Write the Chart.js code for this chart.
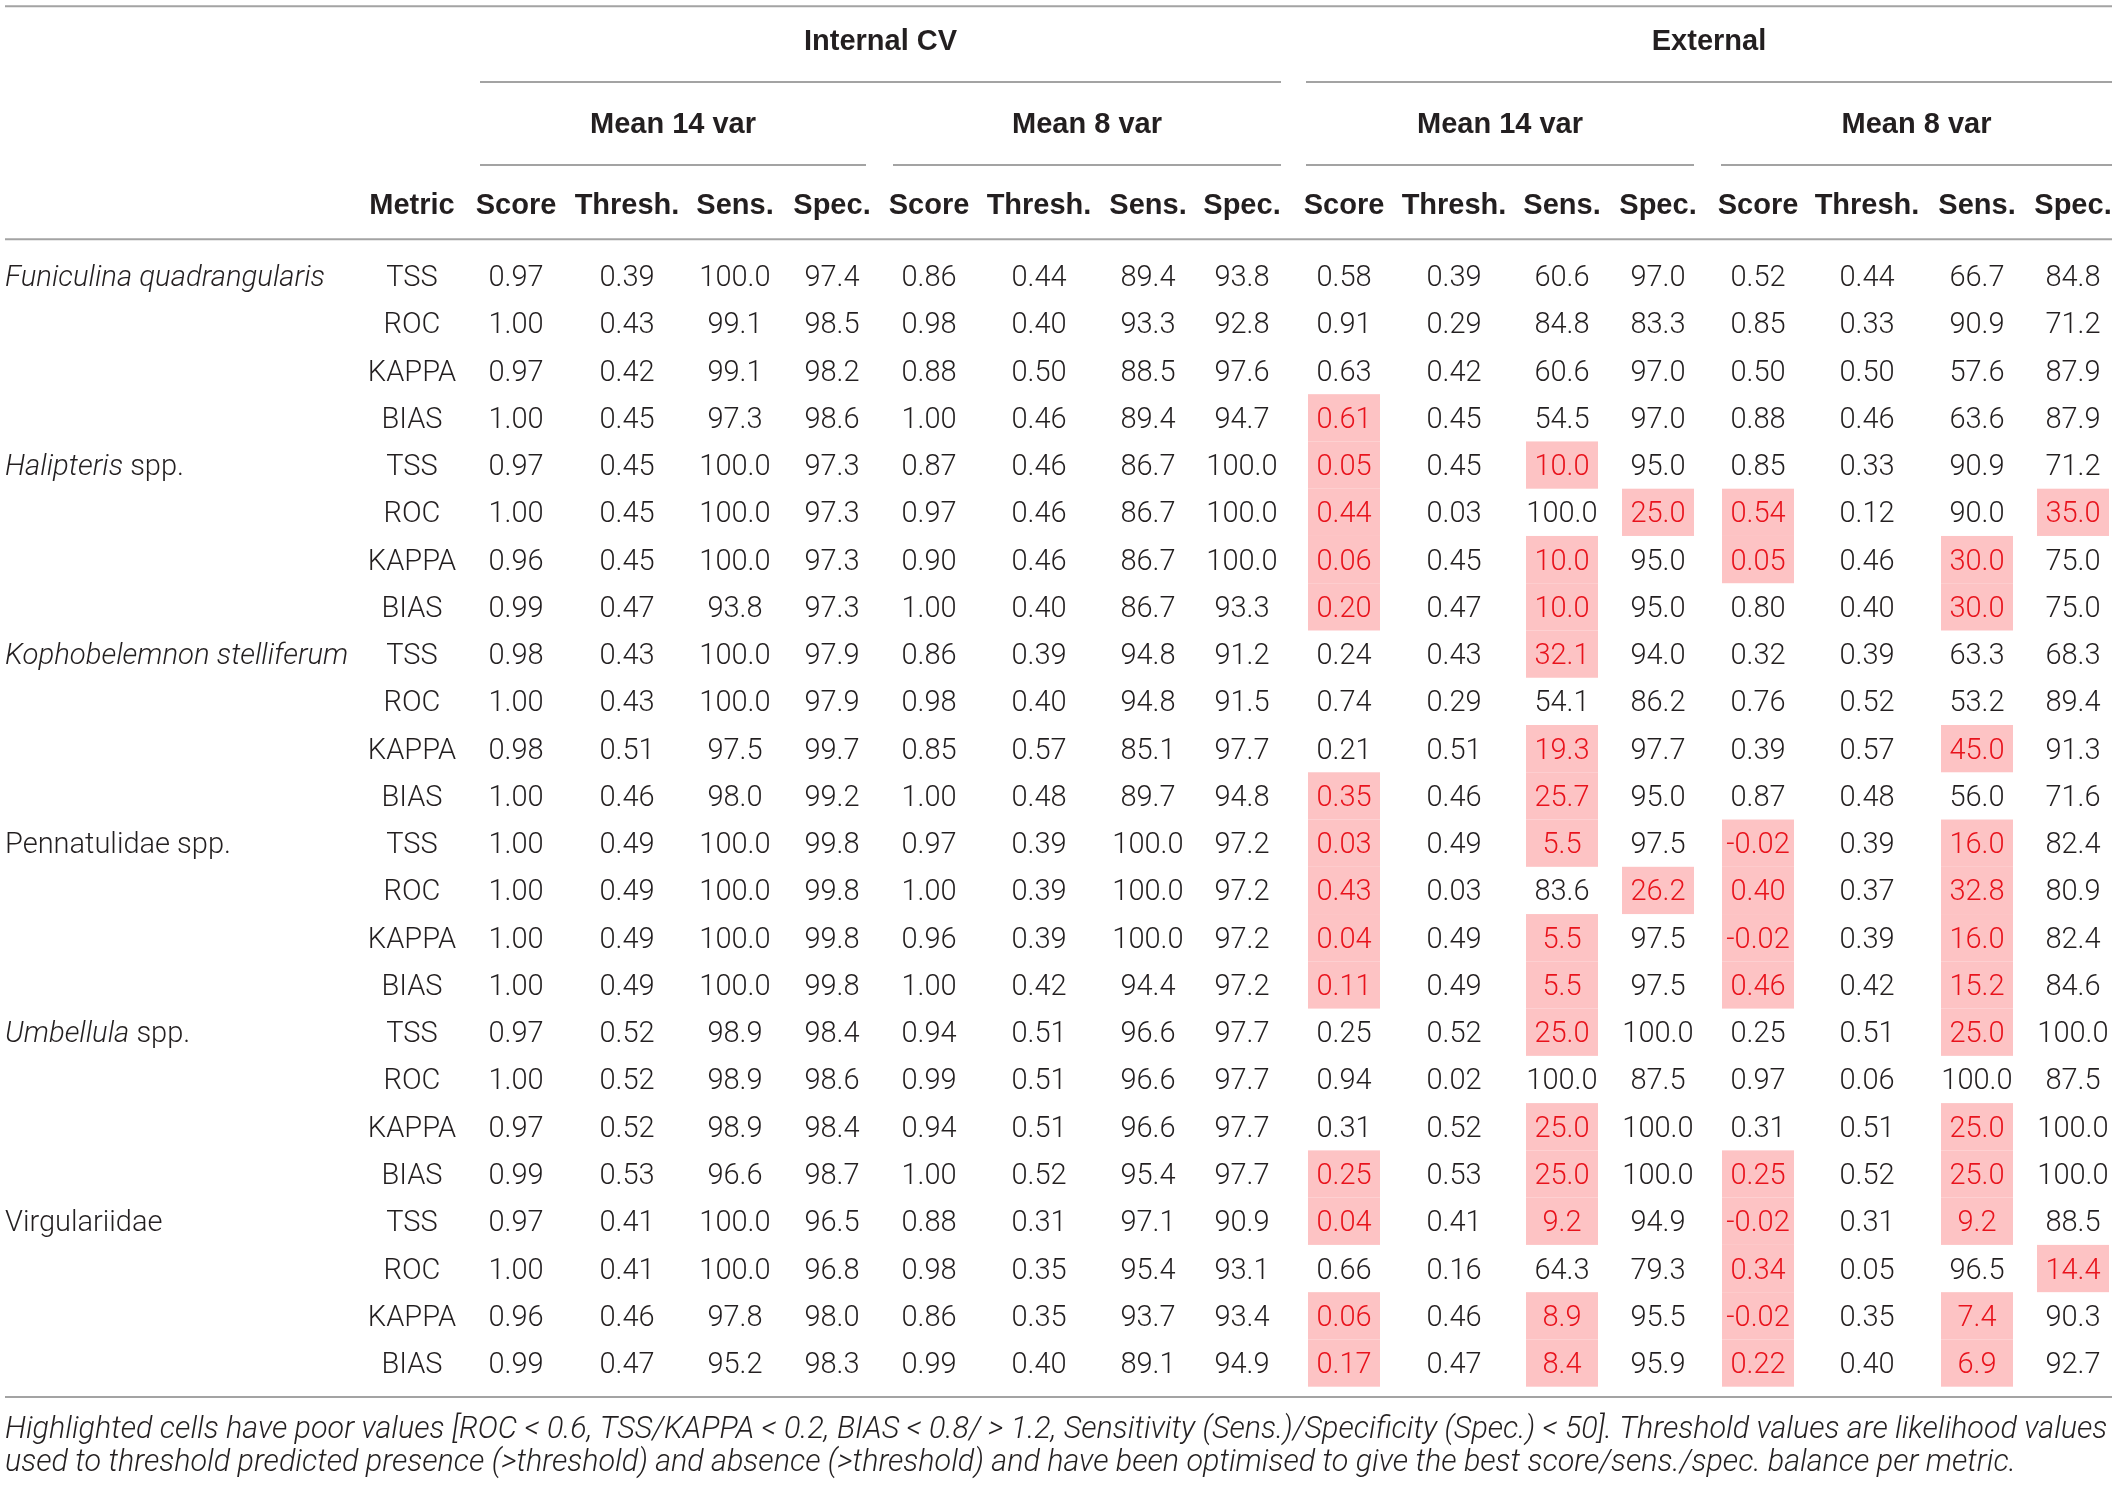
<!DOCTYPE html>
<html>
<head>
<meta charset="utf-8">
<title>Model evaluation table</title>
<script src="https://cdn.jsdelivr.net/npm/chart.js@4.4.1/dist/chart.umd.min.js"></script>
<style>
html, body { margin: 0; padding: 0; background: #fff; }
#wrap { position: relative; width: 2118px; height: 1485px; }
</style>
</head>
<body>
<div id="wrap"><canvas id="tablechart"></canvas></div>
<script>
'use strict';

// ---- data ----
const speciesItalic = ['Funiculina quadrangularis', 'Halipteris', 'Kophobelemnon stelliferum', '', 'Umbellula', ''];
const speciesPlain = ['', ' spp.', '', 'Pennatulidae spp.', ' spp.', 'Virgulariidae'];
const metrics = ['TSS', 'ROC', 'KAPPA', 'BIAS'];
const groupHeads = ['Internal CV', 'External'];
const subHeads = ['Mean 14 var', 'Mean 8 var', 'Mean 14 var', 'Mean 8 var'];
const colHeads = ['Score', 'Thresh.', 'Sens.', 'Spec.'];

// one array per column, 24 rows (6 species x TSS/ROC/KAPPA/BIAS)
const intM14Score  = [0.97, 1.00, 0.97, 1.00, 0.97, 1.00, 0.96, 0.99, 0.98, 1.00, 0.98, 1.00, 1.00, 1.00, 1.00, 1.00, 0.97, 1.00, 0.97, 0.99, 0.97, 1.00, 0.96, 0.99];
const intM14Thresh = [0.39, 0.43, 0.42, 0.45, 0.45, 0.45, 0.45, 0.47, 0.43, 0.43, 0.51, 0.46, 0.49, 0.49, 0.49, 0.49, 0.52, 0.52, 0.52, 0.53, 0.41, 0.41, 0.46, 0.47];
const intM14Sens   = [100.0, 99.1, 99.1, 97.3, 100.0, 100.0, 100.0, 93.8, 100.0, 100.0, 97.5, 98.0, 100.0, 100.0, 100.0, 100.0, 98.9, 98.9, 98.9, 96.6, 100.0, 100.0, 97.8, 95.2];
const intM14Spec   = [97.4, 98.5, 98.2, 98.6, 97.3, 97.3, 97.3, 97.3, 97.9, 97.9, 99.7, 99.2, 99.8, 99.8, 99.8, 99.8, 98.4, 98.6, 98.4, 98.7, 96.5, 96.8, 98.0, 98.3];
const intM8Score   = [0.86, 0.98, 0.88, 1.00, 0.87, 0.97, 0.90, 1.00, 0.86, 0.98, 0.85, 1.00, 0.97, 1.00, 0.96, 1.00, 0.94, 0.99, 0.94, 1.00, 0.88, 0.98, 0.86, 0.99];
const intM8Thresh  = [0.44, 0.40, 0.50, 0.46, 0.46, 0.46, 0.46, 0.40, 0.39, 0.40, 0.57, 0.48, 0.39, 0.39, 0.39, 0.42, 0.51, 0.51, 0.51, 0.52, 0.31, 0.35, 0.35, 0.40];
const intM8Sens    = [89.4, 93.3, 88.5, 89.4, 86.7, 86.7, 86.7, 86.7, 94.8, 94.8, 85.1, 89.7, 100.0, 100.0, 100.0, 94.4, 96.6, 96.6, 96.6, 95.4, 97.1, 95.4, 93.7, 89.1];
const intM8Spec    = [93.8, 92.8, 97.6, 94.7, 100.0, 100.0, 100.0, 93.3, 91.2, 91.5, 97.7, 94.8, 97.2, 97.2, 97.2, 97.2, 97.7, 97.7, 97.7, 97.7, 90.9, 93.1, 93.4, 94.9];
const extM14Score  = [0.58, 0.91, 0.63, 0.61, 0.05, 0.44, 0.06, 0.20, 0.24, 0.74, 0.21, 0.35, 0.03, 0.43, 0.04, 0.11, 0.25, 0.94, 0.31, 0.25, 0.04, 0.66, 0.06, 0.17];
const extM14Thresh = [0.39, 0.29, 0.42, 0.45, 0.45, 0.03, 0.45, 0.47, 0.43, 0.29, 0.51, 0.46, 0.49, 0.03, 0.49, 0.49, 0.52, 0.02, 0.52, 0.53, 0.41, 0.16, 0.46, 0.47];
const extM14Sens   = [60.6, 84.8, 60.6, 54.5, 10.0, 100.0, 10.0, 10.0, 32.1, 54.1, 19.3, 25.7, 5.5, 83.6, 5.5, 5.5, 25.0, 100.0, 25.0, 25.0, 9.2, 64.3, 8.9, 8.4];
const extM14Spec   = [97.0, 83.3, 97.0, 97.0, 95.0, 25.0, 95.0, 95.0, 94.0, 86.2, 97.7, 95.0, 97.5, 26.2, 97.5, 97.5, 100.0, 87.5, 100.0, 100.0, 94.9, 79.3, 95.5, 95.9];
const extM8Score   = [0.52, 0.85, 0.50, 0.88, 0.85, 0.54, 0.05, 0.80, 0.32, 0.76, 0.39, 0.87, -0.02, 0.40, -0.02, 0.46, 0.25, 0.97, 0.31, 0.25, -0.02, 0.34, -0.02, 0.22];
const extM8Thresh  = [0.44, 0.33, 0.50, 0.46, 0.33, 0.12, 0.46, 0.40, 0.39, 0.52, 0.57, 0.48, 0.39, 0.37, 0.39, 0.42, 0.51, 0.06, 0.51, 0.52, 0.31, 0.05, 0.35, 0.40];
const extM8Sens    = [66.7, 90.9, 57.6, 63.6, 90.9, 90.0, 30.0, 30.0, 63.3, 53.2, 45.0, 56.0, 16.0, 32.8, 16.0, 15.2, 25.0, 100.0, 25.0, 25.0, 9.2, 96.5, 7.4, 6.9];
const extM8Spec    = [84.8, 71.2, 87.9, 87.9, 71.2, 35.0, 75.0, 75.0, 68.3, 89.4, 91.3, 71.6, 82.4, 80.9, 82.4, 84.6, 100.0, 87.5, 100.0, 100.0, 88.5, 14.4, 90.3, 92.7];

// highlighted (poor) cells as [row, column]
const flagged = [
  [3, 8],
  [4, 8], [4, 10],
  [5, 8], [5, 11], [5, 12], [5, 15],
  [6, 8], [6, 10], [6, 12], [6, 14],
  [7, 8], [7, 10], [7, 14],
  [8, 10],
  [10, 10], [10, 14],
  [11, 8], [11, 10],
  [12, 8], [12, 10], [12, 12], [12, 14],
  [13, 8], [13, 11], [13, 12], [13, 14],
  [14, 8], [14, 10], [14, 12], [14, 14],
  [15, 8], [15, 10], [15, 12], [15, 14],
  [16, 10], [16, 14],
  [18, 10], [18, 14],
  [19, 8], [19, 10], [19, 12], [19, 14],
  [20, 8], [20, 10], [20, 12], [20, 14],
  [21, 12], [21, 15],
  [22, 8], [22, 10], [22, 12], [22, 14],
  [23, 8], [23, 10], [23, 12], [23, 14]
];

const notes = [
  'Highlighted cells have poor values [ROC < 0.6, TSS/KAPPA < 0.2, BIAS < 0.8/ > 1.2, Sensitivity (Sens.)/Specificity (Spec.) < 50]. Threshold values are likelihood values',
  'used to threshold predicted presence (>threshold) and absence (>threshold) and have been optimised to give the best score/sens./spec. balance per metric.'
];

const columns = [
  intM14Score, intM14Thresh, intM14Sens, intM14Spec,
  intM8Score, intM8Thresh, intM8Sens, intM8Spec,
  extM14Score, extM14Thresh, extM14Sens, extM14Spec,
  extM8Score, extM8Thresh, extM8Sens, extM8Spec
];

// ---- layout (x in page px, y in row units) ----
const colX = [516, 627, 735, 832, 929, 1039, 1148, 1242, 1344, 1454, 1562, 1658, 1758, 1867, 1977, 2073];
const metricX = 412;
const leftX = 5;
const rightX = 2112;
const cellW = 72;
const groupSpan = [[480, 1281], [1306, 2112]];
const subSpan = [[480, 866], [893, 1281], [1306, 1694], [1721, 2112]];
const rowY = {
  topLine: -5.71, group: -4.99, groupLine: -4.105, sub: -3.24, subLine: -2.35,
  head: -1.52, headLine: -0.78, bottomLine: 23.72, note1: 24.38, note2: 25.07
};

const textColor = '#231f20';
const redColor = '#e8131c';
const pinkColor = '#fdc3c4';
const ruleColor = '#a3a3a3';
const lightFont = '300 29px Roboto, "Liberation Sans", sans-serif';
const italicFont = 'italic 300 29.3px Roboto, "Liberation Sans", sans-serif';
const boldFont = 'bold 29px "Liberation Sans", Arial, sans-serif';
const noteFont = 'italic 300 30.5px Roboto, "Liberation Sans", sans-serif';

const isFlagged = (r, c) => flagged.some(f => f[0] === r && f[1] === c);
const fmt = (v, c) => (c % 4 < 2 ? v.toFixed(2) : v.toFixed(1));

// write text with its cap height centred on y
const put = (ctx, txt, x, y, font, align, color) => {
  ctx.font = font;
  ctx.textAlign = align;
  ctx.fillStyle = color;
  ctx.textBaseline = 'alphabetic';
  ctx.fillText(txt, x, y + 10);
};

const rule = (ctx, x0, x1, y) => {
  ctx.beginPath();
  ctx.moveTo(x0, y);
  ctx.lineTo(x1, y);
  ctx.stroke();
};

const tablePlugin = {
  id: 'tablePlugin',
  beforeDatasetsDraw(chart) {
    const ctx = chart.ctx;
    const ys = chart.scales.y;
    ctx.save();
    ctx.fillStyle = pinkColor;
    flagged.forEach(([r, c]) => {
      const el = chart.getDatasetMeta(c).data[r];
      const top = ys.getPixelForValue(r - 0.5);
      const bot = ys.getPixelForValue(r + 0.5);
      ctx.fillRect(el.x - cellW / 2, top, cellW, bot - top);
    });
    ctx.restore();
  },
  afterDatasetsDraw(chart) {
    const ctx = chart.ctx;
    const xs = chart.scales.x;
    const ys = chart.scales.y;
    const py = v => ys.getPixelForValue(v);
    const px = v => xs.getPixelForValue(v);
    ctx.save();

    // cell values
    columns.forEach((col, c) => {
      chart.getDatasetMeta(c).data.forEach((el, r) => {
        put(ctx, fmt(col[r], c), el.x, el.y, lightFont, 'center', isFlagged(r, c) ? redColor : textColor);
      });
    });

    // metric and species labels
    speciesItalic.forEach((it, s) => {
      metrics.forEach((m, k) => {
        put(ctx, m, px(metricX), py(s * 4 + k), lightFont, 'center', textColor);
      });
      let x = px(leftX);
      if (it) {
        put(ctx, it, x, py(s * 4), italicFont, 'left', textColor);
        x += ctx.measureText(it).width;
      }
      if (speciesPlain[s]) put(ctx, speciesPlain[s], x, py(s * 4), lightFont, 'left', textColor);
    });

    // headers
    groupHeads.forEach((g, i) => {
      put(ctx, g, px((groupSpan[i][0] + groupSpan[i][1]) / 2), py(rowY.group), boldFont, 'center', textColor);
    });
    subHeads.forEach((s, i) => {
      put(ctx, s, px((subSpan[i][0] + subSpan[i][1]) / 2), py(rowY.sub), boldFont, 'center', textColor);
    });
    put(ctx, 'Metric', px(metricX), py(rowY.head), boldFont, 'center', textColor);
    colX.forEach((x, c) => {
      put(ctx, colHeads[c % 4], px(x), py(rowY.head), boldFont, 'center', textColor);
    });

    // rules
    ctx.strokeStyle = ruleColor;
    ctx.lineWidth = 2;
    rule(ctx, px(leftX), px(rightX), py(rowY.topLine));
    groupSpan.forEach(s => rule(ctx, px(s[0]), px(s[1]), py(rowY.groupLine)));
    subSpan.forEach(s => rule(ctx, px(s[0]), px(s[1]), py(rowY.subLine)));
    rule(ctx, px(leftX), px(rightX), py(rowY.headLine));
    rule(ctx, px(leftX), px(rightX), py(rowY.bottomLine));

    // footnote
    put(ctx, notes[0], px(leftX), py(rowY.note1), noteFont, 'left', textColor);
    put(ctx, notes[1], px(leftX), py(rowY.note2), noteFont, 'left', textColor);
    ctx.restore();
  }
};

new Chart(document.querySelector('#tablechart'), {
  type: 'scatter',
  data: {
    datasets: columns.map((col, c) => ({
      label: 'col' + c,
      data: col.map((v, r) => ({ x: colX[c], y: r })),
      pointRadius: 0,
      pointHoverRadius: 0
    }))
  },
  options: {
    responsive: true,
    maintainAspectRatio: false,
    animation: false,
    events: [],
    layout: { padding: 0 },
    plugins: { legend: { display: false }, tooltip: { enabled: false } },
    scales: {
      x: { type: 'linear', display: false, min: 0, max: 2118 },
      y: { type: 'linear', display: false, reverse: true, min: -5.84, max: 25.58 }
    }
  },
  plugins: [tablePlugin]
});
</script>
</body>
</html>
